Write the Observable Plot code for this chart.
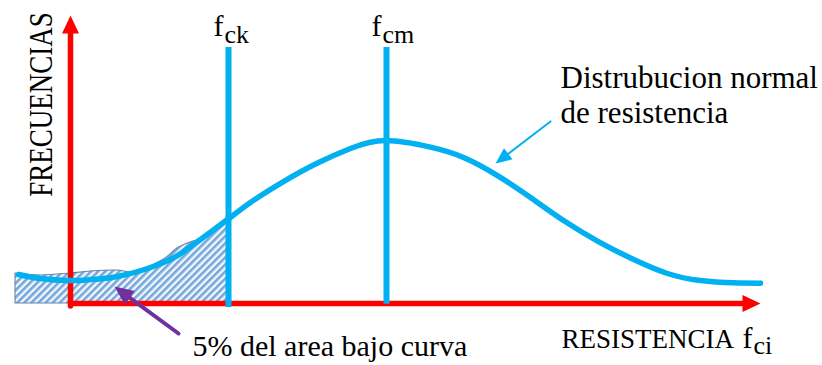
<!DOCTYPE html>
<html><head><meta charset="utf-8">
<script src="https://cdn.jsdelivr.net/npm/d3@7"></script>
<script src="https://cdn.jsdelivr.net/npm/@observablehq/plot@0.6"></script>
<style>html,body{margin:0;padding:0;background:#fff;} svg{display:block;}</style>
</head><body><div id="chart"></div>
<script>
// ---- data (x: resistance units, y: relative frequency, peak = 100) ----
const curveX = [-6.58, -3.80, -0.38, 2.53, 5.95, 10.13, 13.54, 16.46, 19.87, 22.78, 26.96, 31.27, 35.44, 39.87, 45.57, 49.75, 54.05, 58.23, 62.41, 66.71, 70.89, 75.57, 79.75, 83.92, 87.34];
const curveY = [17.8, 15.3, 14.1, 14.7, 16.6, 22.1, 29.4, 39.3, 51.5, 62.0, 74.8, 86.2, 95.1, 100, 95.9, 89.6, 78.5, 65.0, 50.9, 38.3, 27.9, 18.4, 14.1, 12.7, 12.5];
const hatchX = [-6.96, -3.80, 0, 2.53, 5.95, 8.23, 10.13, 12.03, 13.54, 15.19, 16.46, 18.35, 19.87];
const hatchY = [18.4, 17.2, 18.4, 19.6, 20.2, 19.0, 22.7, 27.6, 33.7, 37.4, 39.5, 44.5, 50.5];
const refNames = ["ck", "cm"];
const refX = [20, 40];
const refTop = [157.1, 157.1];
const refBottom = [-2.5, -0.5];
const axisTopY = 176.7;
const axisEndX = 87.34;
const noteTail = [60.76, 111.7], noteTip = [53.80, 85.9];
const areaTail = [13.67, -18.4], areaTip = [5.57, 10.4];
const labels = {
  yTitle: "FRECUENCIAS",
  xTitle: "RESISTENCIA",
  note: "Distrubucion normal\nde resistencia",
  area: "5% del area bajo curva",
  f: "f", xSub: "ci"
};

// ---- layout ----
const W = 822, H = 365;
const xDomain = [-70 / 7.9, (822 - 70) / 7.9];
const yDomain = [-62 / 1.63, 303 / 1.63];
const sx = d3.scaleLinear(xDomain, [0, W]);
const sy = d3.scaleLinear(yDomain, [H, 0]);
const RED = "#ff0000", BLUE = "#00b0f0", PURPLE = "#7030a0";
const SENTINEL = "#010203";
const FONT = "Liberation Serif";

const curve = curveX.map((x, i) => ({x, y: curveY[i]}));
const hatch = hatchX.map((x, i) => ({x, y: hatchY[i]}));
const refs = refX.map((x, i) => ({x, name: refNames[i], top: refTop[i], bottom: refBottom[i]}));

function arrow(id, tail, tip, len, wid) {
  const tx = sx(tip[0]), ty = sy(tip[1]);
  const fx = sx(tail[0]), fy = sy(tail[1]);
  const d = Math.hypot(tx - fx, ty - fy);
  const ux = (tx - fx) / d, uy = (ty - fy) / d;
  const bx = tx - ux * len, by = ty - uy * len;
  const pts = [[tx, ty], [bx - uy * wid / 2, by + ux * wid / 2], [bx + uy * wid / 2, by - ux * wid / 2]];
  return {
    head: pts.map(([px, py]) => ({id, x: sx.invert(px), y: sy.invert(py)})),
    shaft: [{x: tail[0], y: tail[1]}, {x: sx.invert(bx + ux * 2), y: sy.invert(by + uy * 2)}]
  };
}
const yAx = arrow("y", [0, -1.5], [0, axisTopY], 18, 17);
const xAx = arrow("x", [0, 0], [axisEndX, 0], 18, 17);
const nAr = arrow("n", noteTail, noteTip, 16, 14);
const aAr = arrow("a", areaTail, areaTip, 19, 17);

const txt = (data, o) => Plot.text(data, {x: "x", y: "y", text: "t", fontFamily: FONT, fill: "#000", textAnchor: "start", lineAnchor: "bottom", ...o});

const chart = Plot.plot({
  width: W, height: H, margin: 0,
  x: {domain: xDomain, axis: null},
  y: {domain: yDomain, axis: null},
  style: {background: "#fff", overflow: "visible"},
  marks: [
    Plot.areaY(hatch, {x: "x", y: "y", fill: SENTINEL, stroke: "#6a83a3", strokeWidth: 1.1, curve: "catmull-rom"}),
    Plot.line(yAx.shaft, {x: "x", y: "y", stroke: RED, strokeWidth: 5.5}),
    Plot.line(xAx.shaft, {x: "x", y: "y", stroke: RED, strokeWidth: 5.5}),
    Plot.line(yAx.head, {x: "x", y: "y", fill: RED, stroke: "none"}),
    Plot.line(xAx.head, {x: "x", y: "y", fill: RED, stroke: "none"}),
    Plot.ruleX(refs, {x: "x", y1: "bottom", y2: "top", stroke: BLUE, strokeWidth: 6}),
    Plot.line(curve, {x: "x", y: "y", stroke: BLUE, strokeWidth: 5.5, curve: "natural"}),
    Plot.line(nAr.shaft, {x: "x", y: "y", stroke: BLUE, strokeWidth: 2}),
    Plot.line(nAr.head, {x: "x", y: "y", fill: BLUE, stroke: "none"}),
    Plot.line(aAr.shaft, {x: "x", y: "y", stroke: PURPLE, strokeWidth: 4}),
    Plot.line(aAr.head, {x: "x", y: "y", fill: PURPLE, stroke: "none"}),
    // texts
    txt([{x: -3.73, y: 122.1, t: labels.yTitle}], {rotate: -90, textAnchor: "middle", lineAnchor: "middle", fontSize: 27}),
    txt(refs.map(r => ({x: r.x - 1.9, y: 164.4, t: labels.f})), {fontSize: 30}),
    txt(refs.map(r => ({x: r.x - 0.51, y: 160.1, t: r.name})), {fontSize: 26}),
    txt([{x: 62.03, y: 111.0, t: labels.note}], {fontSize: 31, lineHeight: 35 / 31}),
    txt([{x: 62.15, y: -27.0, t: labels.xTitle}], {fontSize: 27}),
    txt([{x: 85.06, y: -27.0, t: labels.f}], {fontSize: 30}),
    txt([{x: 86.46, y: -30.7, t: labels.xSub}], {fontSize: 26}),
    txt([{x: 15.44, y: -32.5, t: labels.area}], {fontSize: 30})
  ]
});

// hatch pattern (style only)
const svg = d3.select(chart);
const defs = svg.insert("defs", ":first-child");
const pat = defs.append("pattern").attr("id", "hatch").attr("patternUnits", "userSpaceOnUse")
  .attr("width", 5).attr("height", 5).attr("patternTransform", "rotate(45)");
pat.append("rect").attr("width", 5).attr("height", 5).attr("fill", "#f3f7fc");
pat.append("rect").attr("width", 2.6).attr("height", 5).attr("fill", "#74a8dc");
svg.selectAll(`[fill="${SENTINEL}"]`).attr("fill", "url(#hatch)");
// condensed vertical title (stretch glyph height)
svg.selectAll("text").filter(function () { return this.textContent === labels.yTitle; })
  .attr("transform", function () { return d3.select(this).attr("transform") + " scale(1,1.25)"; });

document.getElementById("chart").append(chart);
</script>
</body></html>
